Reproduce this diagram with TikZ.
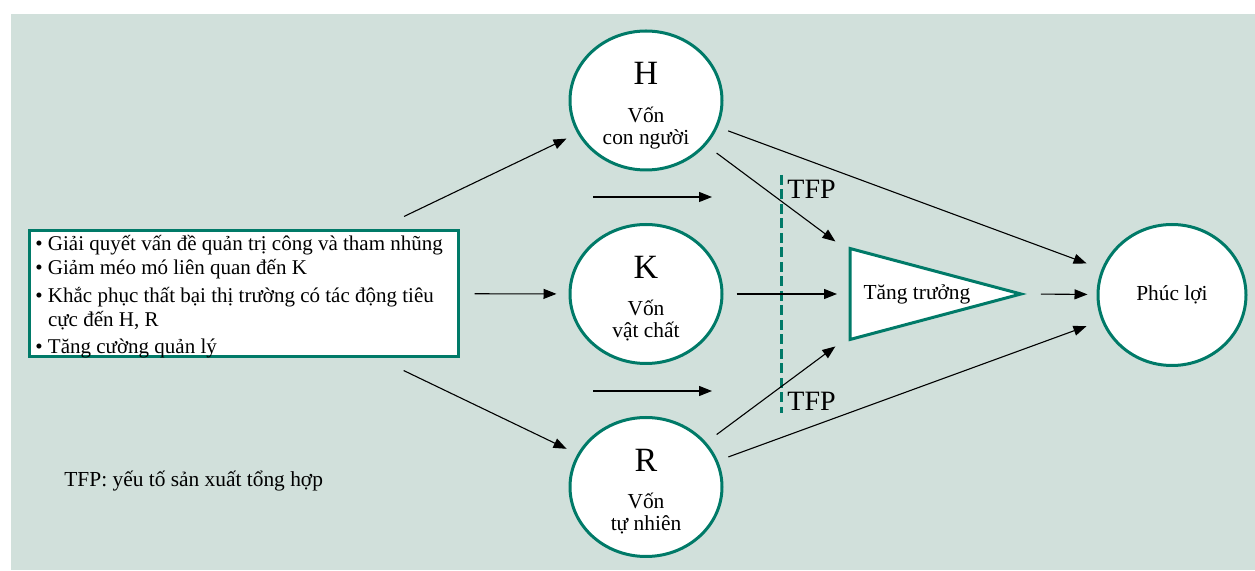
\documentclass[tikz,border=0pt]{standalone}
\usepackage{fontspec}
\setmainfont{Liberation Serif}
\usetikzlibrary{shapes.geometric, arrows.meta, positioning, calc}
\definecolor{capteal}{RGB}{0,122,104}
\definecolor{bgmint}{RGB}{209,224,219}

\begin{document}
\begin{tikzpicture}[x=0.5pt, y=-0.5pt,
  capital/.style={ellipse, draw=capteal, line width=1.5pt, fill=white, inner sep=0pt, minimum width=76pt, minimum height=69.5pt},
  listbox/.style={draw=capteal, line width=1.5pt, fill=white, inner sep=0pt, minimum width=214.5pt, minimum height=63pt},
  listtext/.style={align=left, inner sep=0pt, font=\fontsize{10.5}{11.75}\selectfont},
  capletter/.style={font=\fontsize{17}{18}\selectfont, inner sep=0pt},
  captext/.style={font=\fontsize{10.7}{11}\selectfont, inner sep=0pt},
  flow/.style={-{Triangle[length=6.5pt, width=5pt]}, line width=0.55pt, black},
  tfpline/.style={draw=capteal, line width=1.5pt, dash pattern=on 5pt off 2.25pt}
]
  \useasboundingbox (0,0) rectangle (1255,571);
  \fill[bgmint] (11,14) rectangle (1255,570);

  % policy box
  \node[listbox] (acts) at (243.5,293.5) {};
  \node[listtext, anchor=west] (acts-t) at (35,297) {%
    \textbullet\ Giải quyết vấn đề quản trị công và tham nhũng\\
    \textbullet\ Giảm méo mó liên quan đến K\\[2.5pt]
    \textbullet\ Khắc phục thất bại thị trường có tác động tiêu\\
    \phantom{\textbullet\ }cực đến H, R\\[2pt]
    \textbullet\ Tăng cường quản lý};

  % capitals
  \node[capital] (H) at (646,100.5) {};
  \node[capital] (K) at (646,294) {};
  \node[capital] (R) at (646,487) {};
  \foreach \nm/\lt/\lb in {H/H/con người, K/K/vật chất, R/R/tự nhiên} {
    \node[capletter] (\nm-l) at ($(\nm)+(0,-27)$) {\lt};
    \node[captext, anchor=base] (\nm-a) at ($(\nm)+(0,22)$) {Vốn};
    \node[captext, anchor=base] (\nm-b) at ($(\nm)+(0,44)$) {\lb};
  }

  % growth and welfare
  \node[isosceles triangle, isosceles triangle stretches, draw=capteal, line width=1.5pt, fill=white, inner sep=0pt,
        minimum width=45.5pt, minimum height=85.5pt, anchor=lower side] (tri) at (848.5,294) {};
  \node[captext] (tri-t) at (917,294) {Tăng trưởng};
  \coordinate (tri-c) at (906,294);
  \node[capital, minimum width=74pt, minimum height=70.5pt] (welfare) at (1172,295) {};
  \node[captext] (welfare-t) at (1172,295) {Phúc lợi};

  % TFP
  \coordinate (tfp-top) at (781,175);
  \coordinate (tfp-bot) at (781,413);
  \draw[tfpline] (tfp-top) -- (tfp-bot);
  \node[font=\fontsize{14}{15}\selectfont, inner sep=0pt, anchor=west] (tfp-a) at (787,189) {TFP};
  \node[font=\fontsize{14}{15}\selectfont, inner sep=0pt, anchor=west] (tfp-b) at (787,401) {TFP};

  % free arrows between capitals
  \coordinate (hk-a) at (593,197);
  \coordinate (hk-b) at (712,197);
  \coordinate (kr-a) at (593,391);
  \coordinate (kr-b) at (712,391);
  \draw[flow] (hk-a) -- (hk-b);
  \draw[flow] (kr-a) -- (kr-b);

  % connectors
  \draw[flow, shorten <=14.5pt, shorten >=6pt] (acts) -- (H);
  \draw[flow, shorten <=7.5pt, shorten >=6pt] (acts) -- (K);
  \draw[flow, shorten <=14.5pt, shorten >=6pt] (acts) -- (R);
  \draw[flow, shorten <=6.5pt, shorten >=44pt] (H) -- (tri-c);
  \draw[flow, shorten <=6.5pt, shorten >=34.5pt] (K) -- (tri-c);
  \draw[flow, shorten <=6.5pt, shorten >=44pt] (R) -- (tri-c);
  \draw[flow, shorten <=5.5pt, shorten >=8pt] (H) -- (welfare);
  \draw[flow, shorten <=5.5pt, shorten >=8pt] (R) -- (welfare);
  \draw[flow, shorten <=8pt, shorten >=4.5pt] (tri.apex) -- (welfare);

  % note
  \node[captext, anchor=west] (note) at (64,481) {TFP: yếu tố sản xuất tổng hợp};
\end{tikzpicture}
\end{document}
